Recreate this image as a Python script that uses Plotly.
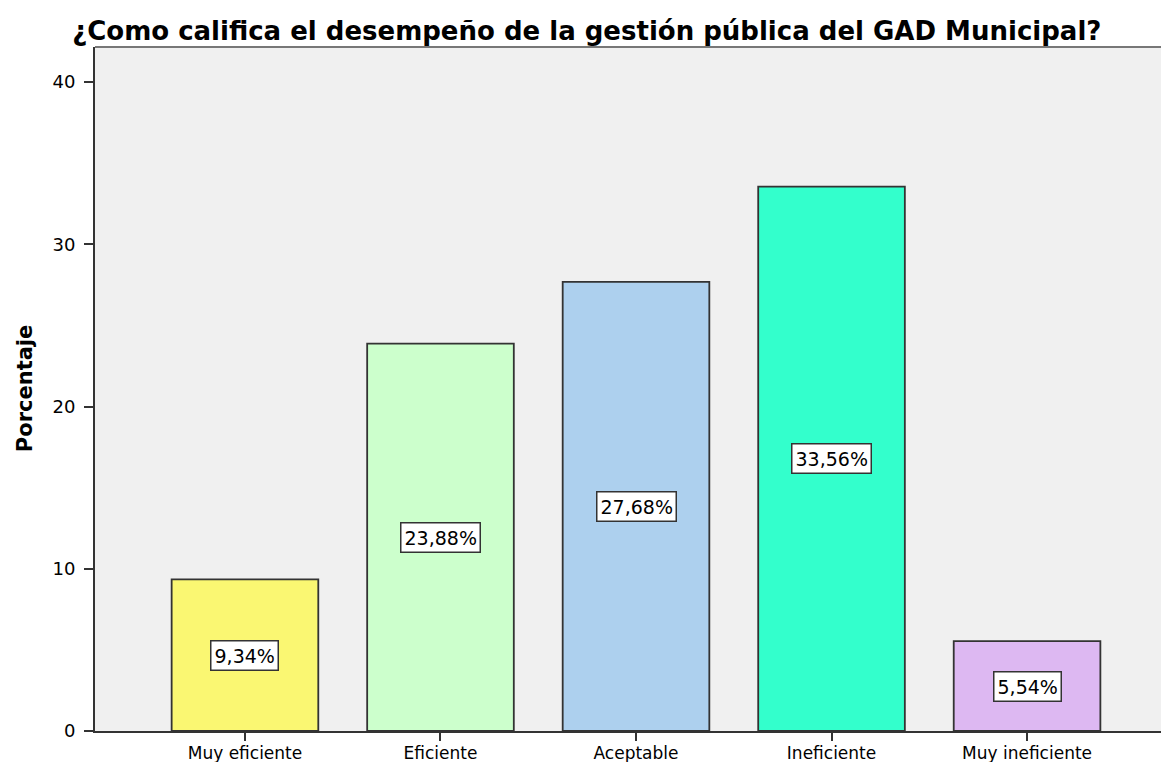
import plotly.graph_objects as go

categories = ["Muy eficiente", "Eficiente", "Aceptable", "Ineficiente", "Muy ineficiente"]
values = [9.34, 23.88, 27.68, 33.56, 5.54]
labels = ["9,34%", "23,88%", "27,68%", "33,56%", "5,54%"]
colors = ["#FAF772", "#CCFFCC", "#ADD0EE", "#33FFCC", "#DDB8F2"]
y_ticks = [0, 10, 20, 30, 40]

FONT = "DejaVu Sans"

fig = go.Figure()
fig.add_trace(go.Bar(
    x=list(range(len(categories))), y=values,
    marker=dict(color=colors, line=dict(color="#333333", width=1.8)),
    width=0.75, hoverinfo="skip",
))

for i, (v, lab) in enumerate(zip(values, labels)):
    fig.add_annotation(x=i, y=v / 2, text=lab, showarrow=False,
                       font=dict(family=FONT, size=19, color="black"),
                       bgcolor="white", bordercolor="#333333", borderwidth=1.5, borderpad=3)

fig.add_annotation(xref="paper", yref="paper", x=-0.065, y=0.5, text="<b>Porcentaje</b>",
                   textangle=-90, showarrow=False, xanchor="center", yanchor="middle",
                   font=dict(family=FONT, size=21, color="black"))

# page body has an 8px margin, so the figure is 8px smaller than the window
fig.update_layout(
    width=1161, height=754,
    margin=dict(l=87, r=0, t=39, b=31, autoexpand=False),
    paper_bgcolor="white", plot_bgcolor="#F0F0F0",
    showlegend=False,
    title=dict(text="<b>¿Como califica el desempeño de la gestión pública del GAD Municipal?</b>",
               x=0.4985, xref="container", xanchor="center",
               y=1, yref="paper", yanchor="bottom", pad=dict(b=7),
               font=dict(family=FONT, size=26, color="black")),
    font=dict(family=FONT, size=17, color="black"),
)
fig.update_xaxes(
    range=[-0.767, 4.726], tickvals=list(range(len(categories))), ticktext=categories,
    ticks="outside", ticklen=8, tickwidth=2, tickcolor="#333333",
    showline=True, linecolor="#333333", linewidth=2, mirror=False, automargin=False,
    showgrid=False, zeroline=False, tickfont=dict(family=FONT, size=17), ticklabelstandoff=-2,
)
fig.update_yaxes(
    range=[0, 42.16], tickvals=y_ticks, ticks="outside", ticklen=9, tickwidth=2,
    tickcolor="#333333", showline=True, linecolor="#333333", linewidth=2, automargin=False,
    showgrid=False, zeroline=False, tickfont=dict(family=FONT, size=18), ticklabelstandoff=5,
)
fig.add_shape(type="line", xref="paper", yref="paper", x0=0, x1=1, y0=1, y1=1,
              line=dict(color="#777777", width=2))

fig.write_html("out.html")
